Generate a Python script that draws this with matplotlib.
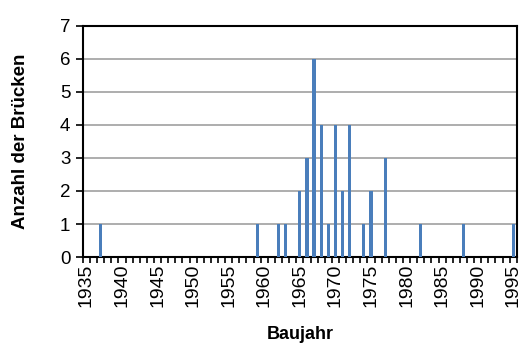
import matplotlib
matplotlib.use("Agg")
import matplotlib.pyplot as plt
import numpy as np

plt.rcParams['font.family'] = ['Liberation Sans', 'DejaVu Sans']

# Baujahr und Anzahl der Brücken
years = [1937, 1959, 1962, 1963, 1965, 1966, 1967, 1968, 1969, 1970,
         1971, 1972, 1974, 1975, 1977, 1982, 1988, 1995]
counts = [1, 1, 1, 1, 2, 3, 6, 4, 1, 4, 2, 4, 1, 2, 3, 1, 1, 1]
label_years = [1935, 1940, 1945, 1950, 1955, 1960, 1965, 1970, 1975, 1980, 1985, 1990, 1995]

fig = plt.figure(figsize=(5.21, 3.45), dpi=100)
ax = fig.add_axes([0.159, 0.255, 0.833, 0.67])

ax.bar(years, counts, width=0.45, color='#4A7EBB', zorder=3)

ax.set_xlim(1934.5, 1995.5)
ax.set_ylim(0, 7)
ax.set_yticks(range(0, 8))
ax.yaxis.grid(True, color='#A0A0A0', linewidth=1.2, zorder=0)

# Excel-Kategorieachse: Striche an den Grenzen, Beschriftung mittig
ax.set_xticks(np.arange(1934.5, 1996, 1.0))
ax.set_xticklabels([])
ax.tick_params(axis='x', which='major', direction='out', length=4, width=1.2)
ax.set_xticks(label_years, minor=True)
ax.set_xticklabels([str(y) for y in label_years], minor=True, rotation=90, fontsize=14)
ax.tick_params(axis='x', which='minor', length=0, pad=5)
ax.tick_params(axis='y', direction='out', length=5, width=1.2, labelsize=13.5, pad=4)

for s in ax.spines.values():
    s.set_linewidth(1.5)
    s.set_color('black')

ax.set_xlabel('Baujahr', fontsize=13, fontweight='bold', labelpad=13)
ax.set_ylabel('Anzahl der Brücken', fontsize=13.5, fontweight='bold', labelpad=22)

fig.savefig('out.png', dpi=100)
